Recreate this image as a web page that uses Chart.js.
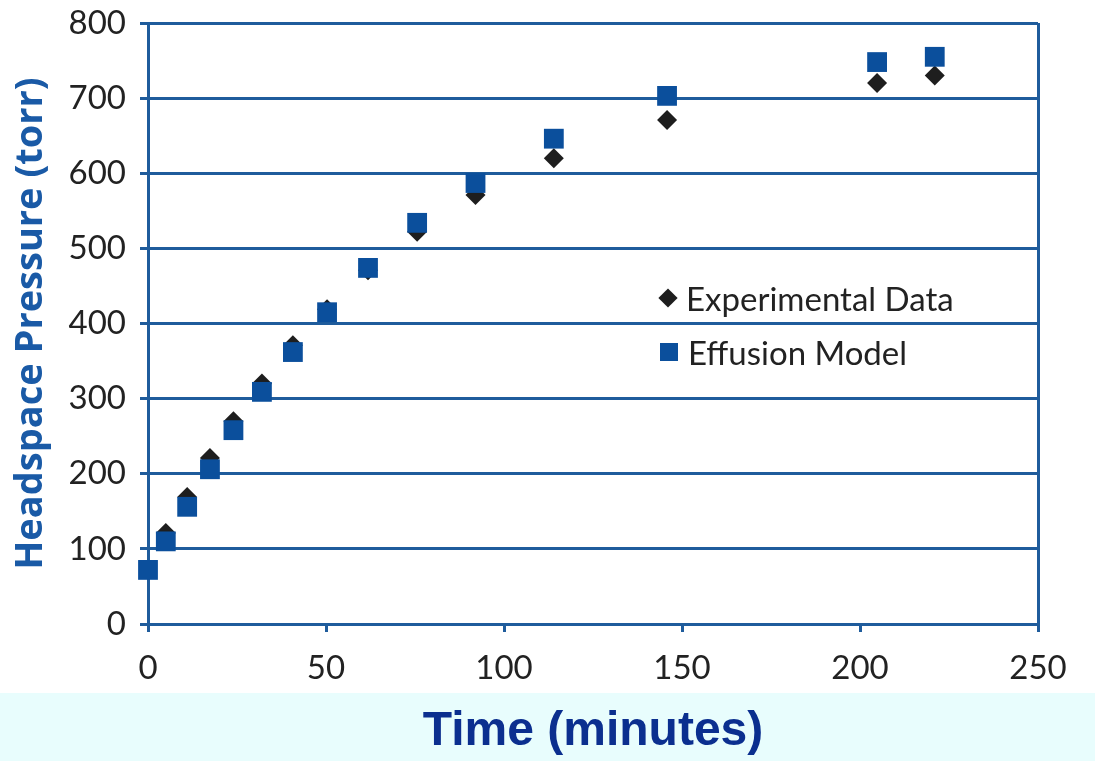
<!DOCTYPE html>
<html>
<head>
<meta charset="utf-8">
<script src="https://cdn.jsdelivr.net/npm/chart.js@4"></script>
<style>
  body { margin: 0; background: #fff; }
  #wrap { position: relative; width: 1095px; height: 761px; }
  #legend { position: absolute; left: 660px; top: 271px; font-family: Lato, sans-serif; font-size: 33px; color: #222; }
  #legend div { height: 54px; display: flex; align-items: center; }
  #legend span.mk { display: inline-block; width: 16px; height: 16px; margin-right: 10px; }
</style>
</head>
<body>
<div id="wrap">
  <canvas id="pressureChart" width="1095" height="761"></canvas>
  <div id="legend"></div>
</div>
<script>
// time (minutes) and headspace pressure (torr)
const modelTimes = [0, 5, 11, 17.4, 24, 32, 40.7, 50.3, 61.8, 75.6, 92, 114, 145.8, 204.8, 221];
const modelPressure = [72, 110, 156, 206, 258, 309, 362, 415, 474, 534, 587, 646, 703, 748, 755];

const expTimes = [5, 11, 17.4, 24, 32, 40.7, 50.3, 61.8, 75.6, 92, 114, 145.8, 204.8, 221];
const expPressure = [121, 169, 221, 270, 320, 371, 419, 471, 522, 571, 620, 671, 720, 730];

const xTicks = [0, 50, 100, 150, 200, 250];
const yTicks = [0, 100, 200, 300, 400, 500, 600, 700, 800];

const gridBlue = '#1f5c9c';

function toPoints(xs, ys) {
    return xs.map((x, i) => ({ x: x, y: ys[i] }));
}

// light cyan band behind the x axis title
const bandPlugin = {
    id: 'band',
    beforeDraw(chart) {
        const ctx = chart.ctx;
        ctx.save();
        ctx.fillStyle = '#ffffff';
        ctx.fillRect(0, 0, chart.width, chart.height);
        ctx.fillStyle = '#e8fdfd';
        ctx.fillRect(0, 693, chart.width, chart.height - 693);
        ctx.restore();
    }
};

const ctx = document.getElementById('pressureChart').getContext('2d');
const chart = new Chart(ctx, {
    type: 'scatter',
    data: {
        datasets: [
            {
                // first dataset is drawn on top, so the squares cover the diamonds
                label: 'Effusion Model',
                data: toPoints(modelTimes, modelPressure),
                pointStyle: 'rect',
                radius: 14,
                hoverRadius: 14,
                backgroundColor: '#0b4f9c',
                borderColor: '#0b4f9c',
                borderWidth: 0,
                clip: false
            },
            {
                label: 'Experimental Data',
                data: toPoints(expTimes, expPressure),
                pointStyle: 'rectRot',
                radius: 10,
                hoverRadius: 10,
                backgroundColor: '#1e1e1e',
                borderColor: '#1e1e1e',
                borderWidth: 0,
                clip: false
            }
        ]
    },
    options: {
        responsive: false,
        animation: false,
        layout: { padding: { left: 0, right: 57, top: 23, bottom: 0 } },
        plugins: {
            legend: { display: false },
            tooltip: { enabled: false }
        },
        scales: {
            x: {
                type: 'linear',
                min: 0,
                max: 250,
                afterBuildTicks: scale => { scale.ticks = xTicks.map(v => ({ value: v })); },
                afterFit: scale => {
                    scale.height = 137;
                    scale.paddingLeft = 0;
                    scale.paddingRight = 0;
                },
                ticks: {
                    font: { family: 'Lato', size: 33 },
                    color: '#222',
                    padding: 17,
                    maxRotation: 0
                },
                grid: {
                    drawOnChartArea: true,
                    color: c => (c.tick && c.tick.value === 250) ? gridBlue : 'rgba(0,0,0,0)',
                    lineWidth: 3,
                    tickColor: gridBlue,
                    tickLength: 8
                },
                border: { display: true, color: gridBlue, width: 3 },
                title: {
                    display: true,
                    text: 'Time (minutes)',
                    color: '#0b2f8f',
                    font: { family: 'Liberation Sans', size: 48, weight: 'bold' },
                    padding: { top: 0, bottom: 0 }
                }
            },
            y: {
                min: 0,
                max: 800,
                afterBuildTicks: scale => { scale.ticks = yTicks.map(v => ({ value: v })); },
                afterFit: scale => {
                    scale.width = 148;
                    scale.paddingTop = 0;
                    scale.paddingBottom = 0;
                },
                ticks: {
                    font: { family: 'Lato', size: 33 },
                    color: '#222',
                    padding: 14
                },
                grid: {
                    color: gridBlue,
                    lineWidth: 3,
                    tickColor: gridBlue,
                    tickLength: 8
                },
                border: { display: true, color: gridBlue, width: 3 },
                title: {
                    display: true,
                    text: 'Headspace Pressure (torr)',
                    color: '#1a5aa6',
                    font: { family: 'Open Sans', size: 38, weight: 'bold' },
                    padding: { top: 8, bottom: 0 }
                }
            }
        }
    },
    plugins: [bandPlugin]
});

// legend inside the plot, experimental first
const legendEl = document.getElementById('legend');
chart.data.datasets.slice().reverse().forEach(ds => {
    const row = document.createElement('div');
    const mk = document.createElement('span');
    mk.className = 'mk';
    mk.style.background = ds.backgroundColor;
    if (ds.pointStyle === 'rectRot') {
        mk.style.transform = 'rotate(45deg) scale(0.85)';
    } else {
        mk.style.width = '18px';
        mk.style.height = '18px';
    }
    row.appendChild(mk);
    row.appendChild(document.createTextNode(ds.label));
    legendEl.appendChild(row);
});
</script>
</body>
</html>
